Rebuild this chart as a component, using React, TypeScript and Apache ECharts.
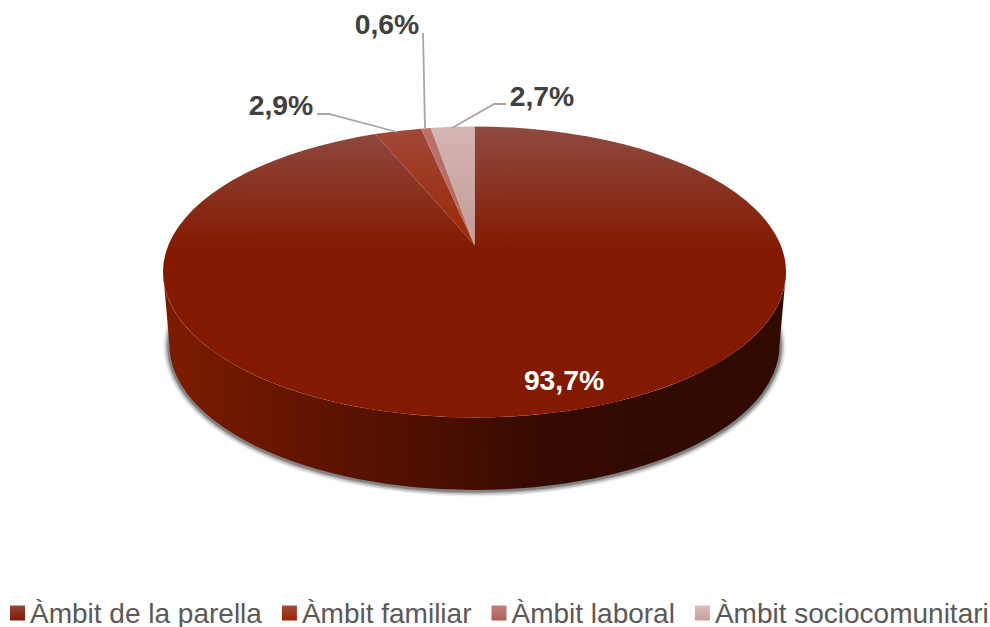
import React, { useEffect, useRef } from "react";
import * as echarts from "echarts";

const categories = ["Àmbit de la parella", "Àmbit familiar", "Àmbit laboral", "Àmbit sociocomunitari"];
const shares = [93.7, 2.9, 0.6, 2.7];

const topStops = [
  ["#8f4a41", "#831a00"],
  ["#a2493a", "#992400"],
  ["#bb736b", "#b0655c"],
  ["#d5b5b3", "#c29a96"],
];
const legendStops = [
  ["#96473a", "#7f1a00"],
  ["#a8493a", "#9a2400"],
  ["#c27f78", "#ad5f55"],
  ["#dcbfbc", "#c59d99"],
];

// geometry of the drawn disc
const CX = 474.5, CY = 272, RX = 311.5, RY = 145.5;
const BOTTOM_CY = 345, BOTTOM_RX = 305, BOTTOM_RY = 145;
const PERSP = -0.185; // apex offset produced by the perspective

const total = shares.reduce((a, b) => a + b, 0);
const pct = (v: number) => v.toFixed(1).replace(".", ",") + "%";

function rim(deg: number) {
  const t = (deg * Math.PI) / 180;
  const u = Math.sin(t), v = -Math.cos(t);
  const d = 1 + PERSP * v;
  return [CX + (RX * (u * Math.sqrt(1 - PERSP * PERSP))) / d, CY + (RY * (v + PERSP)) / d];
}
const apex = [CX, CY + RY * PERSP];

// where each label goes, and its leader line
const labelSpots: { x: number; y: number; fill: string; leader?: number[][] }[] = [
  { x: 564, y: 380, fill: "#ffffff" },
  { x: 281, y: 105, fill: "#404040", leader: [[317, 114], [329, 114], [397, 132]] },
  { x: 387, y: 24, fill: "#404040", leader: [[423, 33], [425, 128]] },
  { x: 542, y: 96, fill: "#404040", leader: [[506, 104], [494, 104], [452, 128]] },
];

const shadowRings = [
  { w: 11, a: 0.09 },
  { w: 8, a: 0.15 },
  { w: 5, a: 0.2 },
  { w: 3, a: 0.28 },
];

function makeRender(idx: number) {
  return (_params: any, api: any) => {
    const value = api.value(0);
    const before = shares.slice(0, idx).reduce((a, b) => a + b, 0);
    const a0 = (before / total) * 360;
    const a1 = ((before + value) / total) * 360;
    const p0 = rim(a0), p1 = rim(a1);
    const large = a1 - a0 > 180 ? 1 : 0;
    const children: any[] = [];
    if (idx === 0) {
      const sx = BOTTOM_RX + 0.5, sy = BOTTOM_RY;
      const sc = BOTTOM_CY + 1;
      const startDy = -28;
      const dxStart = sx * Math.sqrt(1 - (startDy * startDy) / (sy * sy));
      const shadowArc = `M${CX - dxStart} ${sc + startDy}A${sx} ${sy} 0 1 0 ${CX + dxStart} ${sc + startDy}`;
      shadowRings.forEach((r) => {
        children.push({
          type: "path",
          shape: { pathData: shadowArc },
          style: { fill: "none", stroke: `rgba(30,30,30,${r.a})`, lineWidth: r.w, lineCap: "round" },
        });
      });
      const wall =
        `M${CX - RX} ${CY}A${RX} ${RY} 0 0 0 ${CX + RX} ${CY}` +
        `L${CX + BOTTOM_RX} ${BOTTOM_CY}A${BOTTOM_RX} ${BOTTOM_RY} 0 0 1 ${CX - BOTTOM_RX} ${BOTTOM_CY}Z`;
      children.push({
        type: "path",
        shape: { pathData: wall },
        style: {
          fill: {
            type: "linear", x: 163, y: 0, x2: 786, y2: 0, global: true,
            colorStops: [
              { offset: 0, color: "#7c1c00" },
              { offset: 0.2, color: "#651500" },
              { offset: 0.45, color: "#4a0f00" },
              { offset: 0.62, color: "#340a00" },
              { offset: 1, color: "#300900" },
            ],
          },
        },
      });
    }
    children.push({
      type: "path",
      shape: {
        pathData: `M${apex[0]} ${apex[1]}L${p0[0]} ${p0[1]}A${RX} ${RY} 0 ${large} 1 ${p1[0]} ${p1[1]}Z`,
      },
      style: {
        fill: {
          type: "linear", x: 0, y: CY - RY, x2: 0, y2: apex[1] + 5, global: true,
          colorStops: [
            { offset: 0, color: topStops[idx][0] },
            { offset: 1, color: topStops[idx][1] },
          ],
        },
      },
    });
    const spot = labelSpots[idx];
    if (spot.leader) {
      children.push({
        type: "polyline",
        shape: { points: spot.leader },
        style: { fill: "none", stroke: "#a6a6a6", lineWidth: 1.8 },
      });
    }
    children.push({
      type: "text",
      style: {
        x: spot.x, y: spot.y, text: pct(value), fill: spot.fill,
        font: 'bold 28.3px "Liberation Sans", Arial, sans-serif',
        textAlign: "center", textVerticalAlign: "middle",
      },
    });
    return { type: "group", children };
  };
}

export default function App() {
  const ref = useRef<HTMLDivElement>(null);
  useEffect(() => {
    document.body.style.margin = "0";
    const chart = echarts.init(ref.current!, undefined, { renderer: "svg" });
    chart.setOption({
      animation: false,
      backgroundColor: "#ffffff",
      legend: {
        left: 10,
        top: 599,
        padding: 0,
        itemWidth: 15,
        itemHeight: 15,
        itemGap: 20,
        icon: "rect",
        textStyle: { fontFamily: '"Liberation Sans", Arial, sans-serif', fontSize: 28, color: "#595959", padding: [0, 0, 7, 0] },
        data: categories.map((name, i) => ({
          name,
          itemStyle: {
            color: {
              type: "linear", x: 0, y: 0, x2: 0, y2: 1,
              colorStops: [
                { offset: 0, color: legendStops[i][0] },
                { offset: 1, color: legendStops[i][1] },
              ],
            },
          },
        })),
      },
      series: categories.map((name, i) => ({
        type: "custom",
        name,
        coordinateSystem: "none",
        silent: true,
        data: [[shares[i]]],
        renderItem: makeRender(i),
      })),
    });
    return () => chart.dispose();
  }, []);
  return <div ref={ref} style={{ position: "absolute", left: 0, top: 0, width: 990, height: 627, overflow: "hidden" }} />;
}
